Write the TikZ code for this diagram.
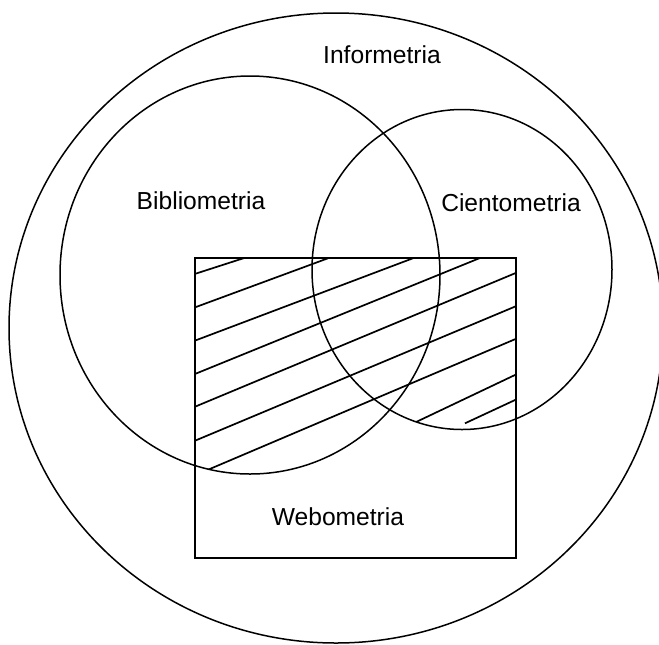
\documentclass[tikz,border=0pt]{standalone}
\usepackage{fontspec}
\setmainfont{Liberation Sans}
\usetikzlibrary{calc}

\begin{document}
\begin{tikzpicture}[x=0.5pt,y=-0.5pt,
  kreis/.style={black,line width=0.75pt},
  schraffur/.style={black,line width=0.85pt},
  kasten/.style={black,line width=1.4pt},
  etikett/.style={font=\fontsize{12.3}{14}\selectfont,inner sep=0pt}]
\useasboundingbox (0,0) rectangle (659,644);
%Mittelpunkte und Radien in Pixeln des Bildes
  \pgfmathsetmacro{\rxInfo}{327}
  \pgfmathsetmacro{\ryInfo}{315}
  \pgfmathsetmacro{\rxBib}{190}
  \pgfmathsetmacro{\ryBib}{199}
  \pgfmathsetmacro{\rxCie}{150}
  \pgfmathsetmacro{\ryCie}{160}
\coordinate (info) at (336,328);
\coordinate (biblio) at (250,275);
\coordinate (ciento) at (462,269.5);
\coordinate (webLO) at (195,258);
\coordinate (webRU) at (516,558);
\draw[kreis] (info) ellipse [x radius=\rxInfo,y radius=\ryInfo];
\draw[kreis] (biblio) ellipse [x radius=\rxBib,y radius=\ryBib];
\draw[kreis] (ciento) ellipse [x radius=\rxCie,y radius=\ryCie];
%Schraffur: Rechteck geschnitten mit Vereinigung der beiden Kreise
\begin{scope}
\clip (webLO) rectangle (webRU);
\clip (biblio) ellipse [x radius=\rxBib,y radius=\ryBib] (ciento) ellipse [x radius=\rxCie,y radius=\ryCie];
\foreach \yl/\yr in {275.5/168.9,309.2/187.4,342.5/217.8,376.0/241.7,408.8/271.2,442.8/304.5,477.4/337.1}{
\draw[schraffur] (190,\yl) -- (520,\yr);
}
\draw[schraffur] (390,434.4) -- (520,372.6);
\draw[schraffur] (465,423.3) -- (520,397.7);
\end{scope}
\draw[kasten] (webLO) rectangle (webRU);
\node[etikett] (informetria) at (382,55) {Informetria};
\node[etikett] (bibliometria) at (201,201) {Bibliometria};
\node[etikett] (cientometria) at (511,203) {Cientometria};
\node[etikett] (webometria) at (338,517) {Webometria};
\end{tikzpicture}
\end{document}
